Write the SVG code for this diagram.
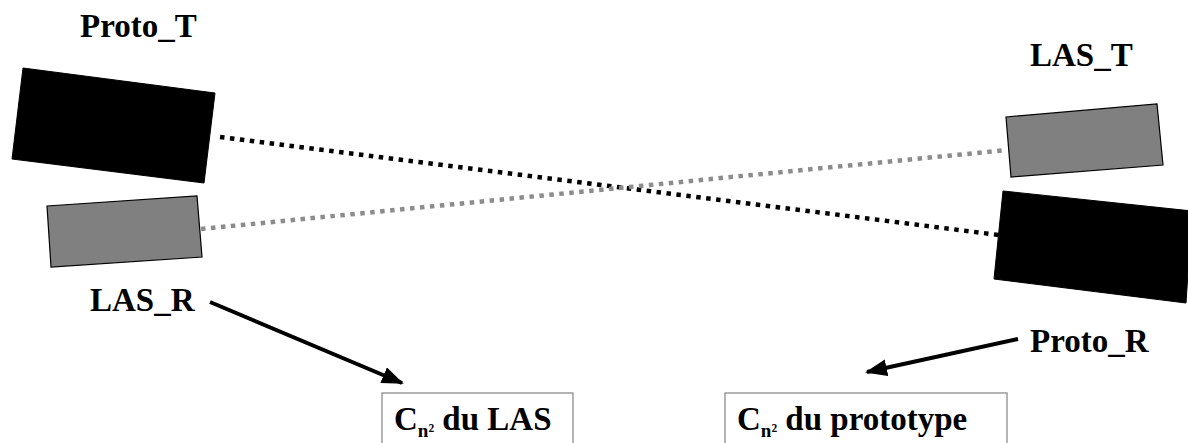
<svg xmlns="http://www.w3.org/2000/svg" width="1188" height="443" viewBox="0 0 1188 443">
<defs>
<style>
.lbl{font-family:"Liberation Serif","Times New Roman",serif;font-weight:bold;font-size:33px;fill:#000}
.sub{font-size:19px}
.blk{fill:#000;stroke:#000;stroke-width:1}
.gry{fill:#808080;stroke:#000;stroke-width:1.2}
.box{fill:#fff;stroke:#8c8c8c;stroke-width:1.3}
.dot{fill:none;stroke-width:4.5;stroke-dasharray:4.5 5.5}
.arr{fill:none;stroke:#000;stroke-width:4}
</style>
<marker id="ah" viewBox="0 0 22 17" refX="20" refY="8.5" markerUnits="userSpaceOnUse" markerWidth="22" markerHeight="17" orient="auto">
<path d="M0,0 L22,8.5 L0,17 Z" fill="#000"/>
</marker>
</defs>
<rect width="1188" height="443" fill="#fff"/>
<g id="connectors">
<line class="dot" x1="220" y1="137" x2="999" y2="235" stroke="#000"/>
<line class="dot" x1="201" y1="229" x2="1007" y2="150" stroke="#8c8c8c"/>
<line class="arr" x1="210" y1="302" x2="402" y2="383" marker-end="url(#ah)"/>
<line class="arr" x1="1018" y1="339" x2="867" y2="372" marker-end="url(#ah)"/>
</g>
<g id="proto_t">
<polygon class="blk" points="23,68 215,93 204,183 12,159"/>
<text class="lbl" x="80" y="37">Proto_T</text>
</g>
<g id="las_r">
<polygon class="gry" points="47,206 197,196 202,257 51,267"/>
<text class="lbl" x="90" y="311">LAS_R</text>
</g>
<g id="las_t">
<polygon class="gry" points="1006,117 1157,104 1163,165 1011,177"/>
<text class="lbl" x="1030" y="66">LAS_T</text>
</g>
<g id="proto_r">
<polygon class="blk" points="1003,191 1192,211 1186,303 994,279"/>
<text class="lbl" x="1030" y="352">Proto_R</text>
</g>
<g id="cn2_las">
<rect class="box" x="382" y="393" width="191" height="60"/>
<text class="lbl" x="394" y="430">C<tspan class="sub" dy="7">n²</tspan><tspan dy="-7"> du LAS</tspan></text>
</g>
<g id="cn2_proto">
<rect class="box" x="725" y="393" width="282" height="60"/>
<text class="lbl" x="737" y="430">C<tspan class="sub" dy="7">n²</tspan><tspan dy="-7"> du prototype</tspan></text>
</g>
</svg>
